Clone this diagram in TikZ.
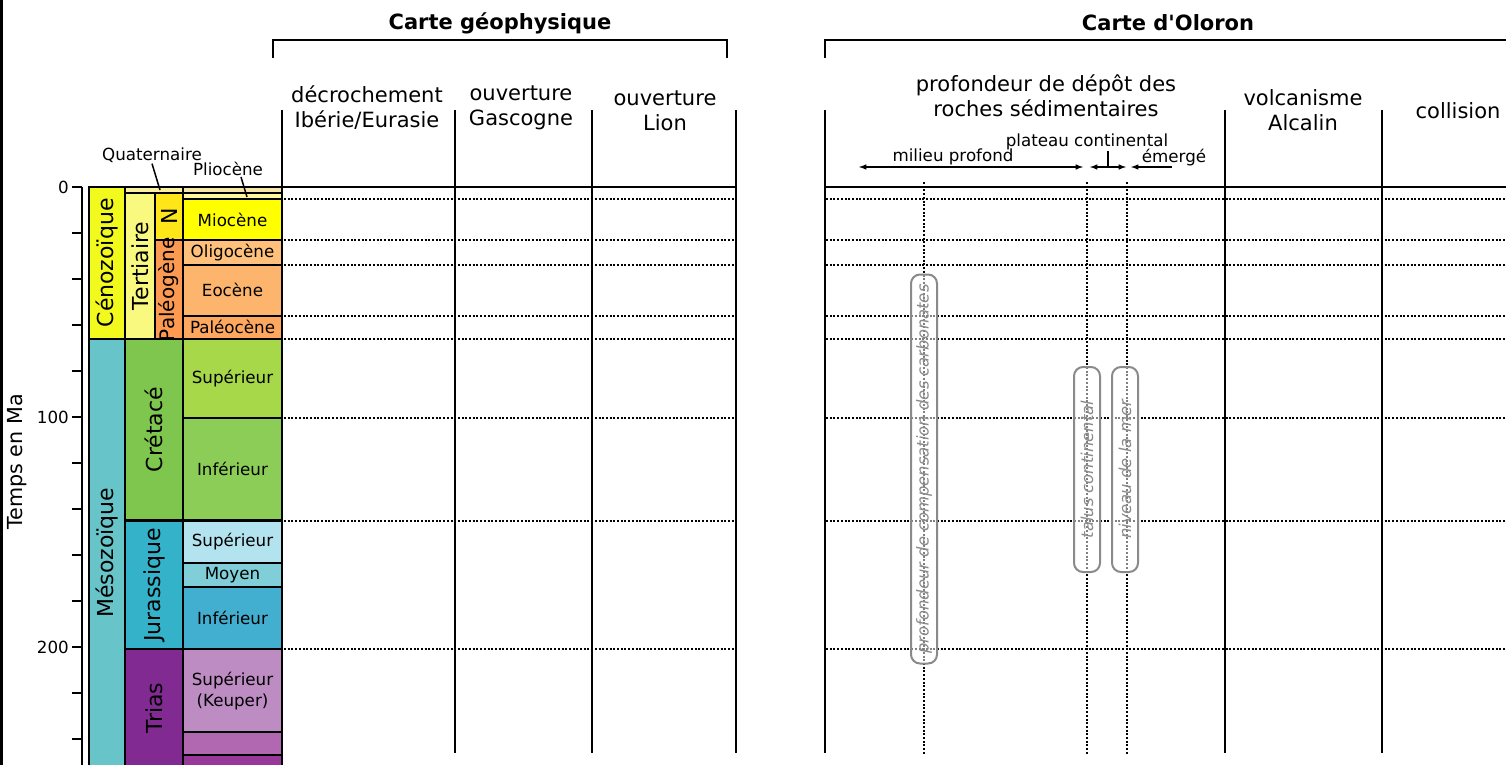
\documentclass[tikz,border=0pt]{standalone}
\usepackage{fontspec}
\setmainfont{DejaVu Sans}[Ligatures=TeXOff]
\usetikzlibrary{positioning}

\definecolor{cenozoic}{HTML}{F2F91D}
\definecolor{mesozoic}{HTML}{67C5CA}
\definecolor{quaternary}{HTML}{F9F0A0}
\definecolor{tertiary}{HTML}{F9F97F}
\definecolor{neogene}{HTML}{FFE619}
\definecolor{paleogene}{HTML}{FD9A52}
\definecolor{holocene}{HTML}{F5E6A8}
\definecolor{pliocene}{HTML}{FFF7A0}
\definecolor{miocene}{HTML}{FFFF00}
\definecolor{oligocene}{HTML}{FEC07A}
\definecolor{eocene}{HTML}{FDB46C}
\definecolor{paleocene}{HTML}{FDA75F}
\definecolor{cretaceous}{HTML}{7FC64E}
\definecolor{crupper}{HTML}{A6D84A}
\definecolor{crlower}{HTML}{8CCD57}
\definecolor{jurassic}{HTML}{34B2C9}
\definecolor{juupper}{HTML}{B3E3EE}
\definecolor{jumiddle}{HTML}{80CFD8}
\definecolor{julower}{HTML}{42AED0}
\definecolor{triassic}{HTML}{812B92}
\definecolor{trupper}{HTML}{BD8CC3}
\definecolor{trmiddle}{HTML}{B168B1}
\definecolor{trlower}{HTML}{983999}
\definecolor{boxgray}{HTML}{8A8A8A}

\begin{document}
\begin{tikzpicture}
  [
    x=1pt, y=-1pt,
    cell/.style={draw=black, line width=2.2},
    colline/.style={black, line width=2.2},
    dotline/.style={black, line width=2, dash pattern=on 2pt off 1.7pt},
    head/.style={font=\fontsize{21}{25}\selectfont, align=center},
    title/.style={font=\bfseries\fontsize{21}{25}\selectfont},
    lbl/.style={font=\fontsize{16.7}{21}\selectfont, align=center, inner sep=1pt},
    per/.style={rotate=90, font=\fontsize{22}{26}\selectfont},
    tag/.style={draw=boxgray, line width=2, rounded corners=9, rotate=90,
      minimum height=26, inner sep=0, text=boxgray,
      font=\itshape\fontsize{16.4}{19}\selectfont,
      fill=white, fill opacity=.5, text opacity=1},
    >=latex,
  ]
\useasboundingbox (0,0) rectangle (1506,765);
\fill (0,0) rectangle (3,765);

\def\T{187}  % 0 Ma
\def\S{2.3}  % per Ma

\newcommand\layer[5]{
  \filldraw[cell, fill=#5] (#1,{\T+\S*#3}) rectangle (#2,{\T+\S*#4});
}
\newcommand\cell[8][]{
  \layer{#3}{#4}{#5}{#6}{#7}
  \node[#1] (#2) at ({(#3+#4)/2},{\T+\S*(#5+#6)/2}) {#8};
}

% time axis
\draw[colline] (82,\T) -- (82,765);
\foreach \t in {0,20,...,240}
  \draw[colline] (72,{\T+\S*\t}) -- (82,{\T+\S*\t});
\foreach \t in {0,100,200}
  \node[lbl, left] (tick\t) at (70,{\T+\S*\t}) {\t};
\node[rotate=90, font=\fontsize{20.7}{24}\selectfont] (axis) at (17,462) {Temps en Ma};

% eres
\cell[per]{ceno}{89}{125}{0}{66}{cenozoic}{Cénozoïque}
\cell[per]{meso}{89}{125}{66}{252}{mesozoic}{Mésozoïque}
% periodes
\layer{125}{183}{0}{2.6}{quaternary}
\cell[per]{tert}{125}{155}{2.6}{66}{tertiary}{Tertiaire}
\cell[per]{neo}{155}{183}{2.6}{23}{neogene}{N}
\cell[per, font=\fontsize{20}{24}\selectfont]{paleo}{155}{183}{23}{66}{paleogene}{Paléogène}
\cell[per]{cret}{125}{183}{66}{145}{cretaceous}{Crétacé}
\cell[per]{jura}{125}{183}{145}{201}{jurassic}{Jurassique}
\cell[per]{trias}{125}{183}{201}{252}{triassic}{Trias}
% epoques
\layer{183}{282}{0}{2.6}{holocene}
\layer{183}{282}{2.6}{5.3}{pliocene}
\cell[lbl]{mio}{183}{282}{5.3}{23}{miocene}{Miocène}
\cell[lbl]{oligo}{183}{282}{23}{33.9}{oligocene}{Oligocène}
\cell[lbl]{eo}{183}{282}{33.9}{56}{eocene}{Eocène}
\cell[lbl]{paleoc}{183}{282}{56}{66}{paleocene}{Paléocène}
\cell[lbl]{crsup}{183}{282}{66}{100.5}{crupper}{Supérieur}
\cell[lbl]{crinf}{183}{282}{100.5}{145}{crlower}{Inférieur}
\cell[lbl]{jusup}{183}{282}{145}{163.5}{juupper}{Supérieur}
\cell[lbl]{jumoy}{183}{282}{163.5}{174}{jumiddle}{Moyen}
\cell[lbl]{juinf}{183}{282}{174}{201}{julower}{Inférieur}
\cell[lbl]{trsup}{183}{282}{201}{237}{trupper}{Supérieur\\(Keuper)}
\layer{183}{282}{237}{247}{trmiddle}
\layer{183}{282}{247}{252}{trlower}

\node[lbl] (quat) at (152,155) {Quaternaire};
\coordinate (quatpt) at (160,190);
\draw[line width=1.5] (quat.south) -- (quatpt);
\node[lbl] (plio) at (228,169) {Pliocène};
\coordinate (pliopt) at (247,197);
\draw[line width=1.5] ([xshift=13]plio.south) -- (pliopt);

% titres
\node[title] (geo) at (500,23) {Carte géophysique};
\node[title] (olo) at (1168,23) {Carte d'Oloron};
\draw[colline] (273,58) -- (273,40) -- (727,40) -- (727,58);
\draw[colline] (825,58) -- (825,40) -- (1506,40);

\node[head] (decro) at (367,108) {décrochement\\Ibérie/Eurasie};
\node[head] (gasc) at (521,108) {ouverture\\Gascogne};
\node[head] (lion) at (665,110.5) {ouverture\\Lion};
\node[head] (prof) at (1046,96) {profondeur de dépôt des\\roches sédimentaires};
\node[head] (volc) at (1303,110) {volcanisme\\Alcalin};
\node[head] (coll) at (1458,111) {collision};

% grille
\foreach \x in {282,455,592,736,825,1225,1382}
  \draw[colline] (\x,110) -- (\x,753);
\draw[colline] (282,\T) -- (736,\T);
\draw[colline] (825,\T) -- (1506,\T);
\foreach \t in {5.3,23,33.9,56,66,100.5,145,201}{
  \draw[dotline] (284,{\T+\S*\t}) -- (735,{\T+\S*\t});
  \draw[dotline] (826,{\T+\S*\t}) -- (1506,{\T+\S*\t});
}
\foreach \x in {924,1087,1127}
  \draw[dotline] (\x,182) -- (\x,755);

% profondeur
\coordinate (mpL) at (859,167);
\coordinate (mpR) at (1083,167);
\draw[<->, line width=1.5] (mpL) -- (mpR);
\node[lbl] (milieu) at (953,157) {milieu profond};
\coordinate (pcL) at (1090,167);
\coordinate (pcR) at (1126,167);
\draw[<->, line width=1.5] (pcL) -- (pcR);
\node[lbl] (plateau) at (1087,142) {plateau continental};
\coordinate (pcT) at (1108,167);
\draw[line width=1.5] (pcT) -- (pcT |- plateau.south);
\coordinate (emL) at (1131,167);
\coordinate (emR) at (1172,167);
\draw[<-, line width=1.5] (emL) -- (emR);
\node[lbl] (emerge) at (1174,158) {émergé};

\node[tag, minimum width=389] (ccd) at (924,469) {profondeur de compensation des carbonates};
\node[tag, minimum width=205] (talus) at (1087,469.5) {talus continental};
\node[tag, minimum width=205] (mer) at (1125,469.5) {niveau de la mer};

\end{tikzpicture}
\end{document}
